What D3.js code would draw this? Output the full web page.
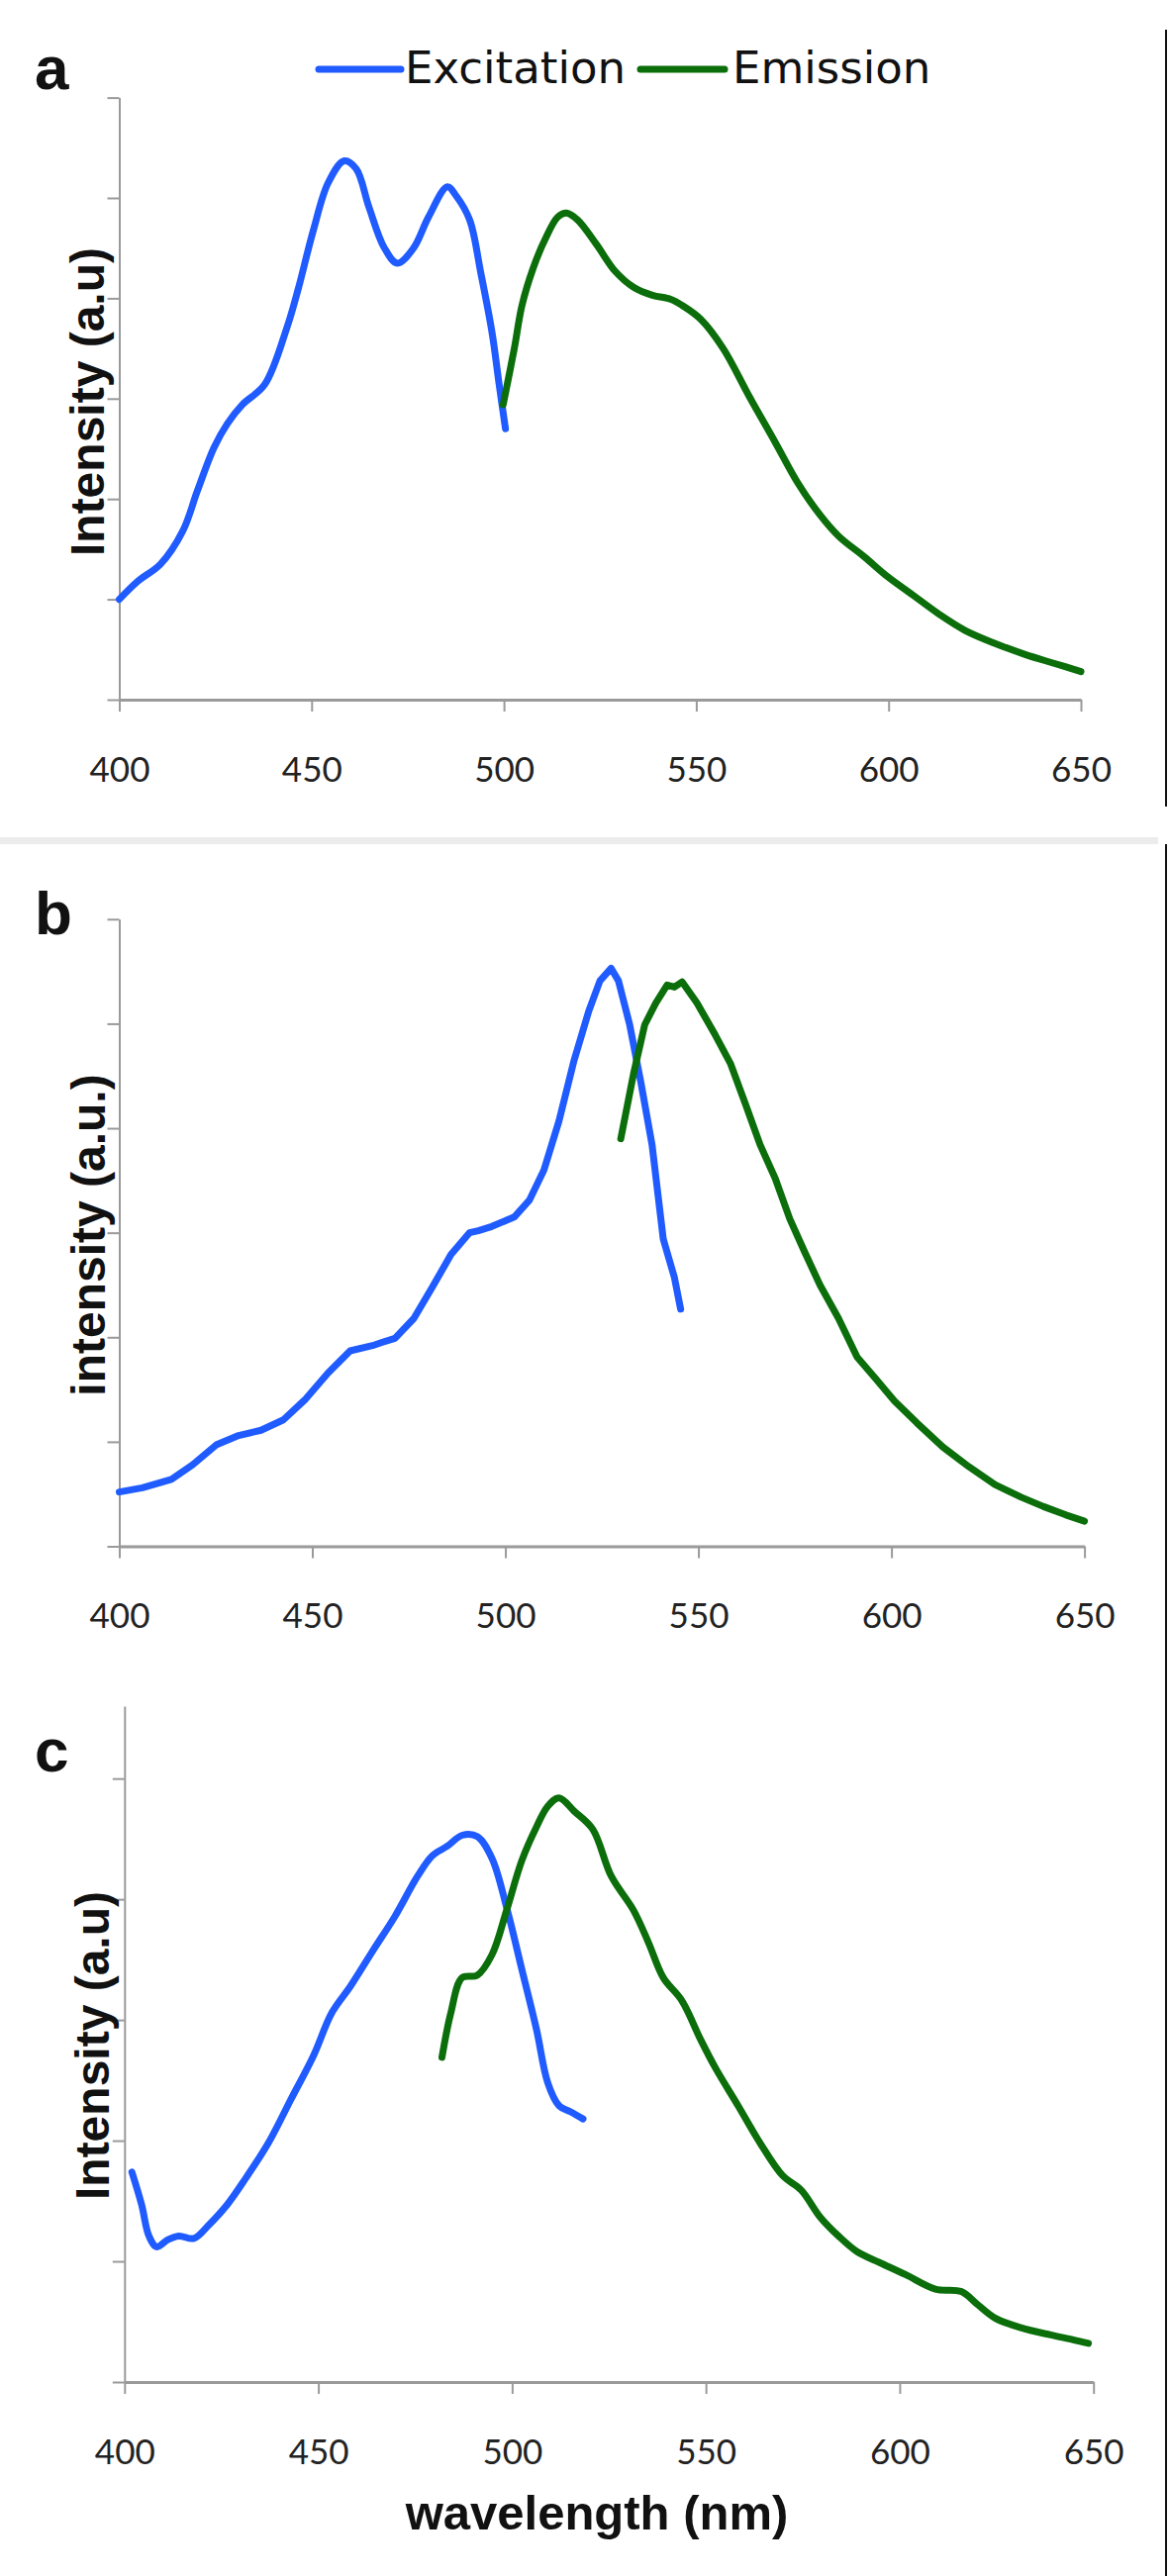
<!DOCTYPE html>
<html><head><meta charset="utf-8">
<script src="https://cdn.jsdelivr.net/npm/d3@7"></script>
<style>html,body{margin:0;padding:0;background:#fff;} svg{display:block;}</style>
</head><body><div id="chart"></div>
<script>
// ---------- data ----------
const xTicks = [400, 450, 500, 550, 600, 650];
const seriesNames = ["Excitation", "Emission"];
const panelLabels = ["a", "b", "c"];
const yTitles = ["Intensity (a.u)", "intensity (a.u.)", "Intensity (a.u)"];
const xTitle = "wavelength (nm)";

const excitationA = [[400,1.00],[404.8,1.18],[410.7,1.35],[416.5,1.68],[420.3,2.08],[424.6,2.51],[428.1,2.75],[432,2.94],[437.8,3.14],[443.6,3.71],[446.5,4.09],[450.4,4.67],[454.3,5.15],[458.5,5.37],[461.6,5.29],[464.9,4.91],[468.8,4.51],[472.3,4.35],[476.5,4.50],[480.4,4.81],[485.3,5.11],[487.6,5.02],[491.1,4.78],[494,4.25],[496.9,3.66],[498.8,3.13],[500.4,2.70]];
const emissionA = [[499.8,2.94],[502.7,3.50],[504.7,3.93],[507.6,4.30],[510.5,4.57],[514,4.81],[516.3,4.85],[519.2,4.78],[524,4.54],[528.9,4.27],[533.7,4.11],[538.6,4.03],[543.4,3.99],[546.3,3.93],[551.2,3.79],[557,3.50],[563.8,3.02],[570.6,2.56],[576.4,2.16],[582.2,1.84],[587,1.63],[593.8,1.42],[599.6,1.23],[606.4,1.04],[613.2,0.85],[619.9,0.69],[627.7,0.56],[635.5,0.45],[643.2,0.36],[650,0.28]];

const excitationB = [[400,0.52],[406,0.56],[413.5,0.64],[419,0.78],[425.1,0.97],[430.9,1.06],[436.7,1.11],[442.5,1.21],[448.3,1.41],[454.1,1.66],[459.8,1.87],[465.6,1.92],[468,1.95],[471.4,1.99],[476.3,2.18],[481.1,2.48],[485.9,2.79],[490.7,3.00],[493,3.02],[496.5,3.06],[502.3,3.15],[506.2,3.31],[510,3.60],[513.9,4.07],[517.8,4.65],[521.6,5.12],[524.5,5.41],[527.4,5.53],[529.3,5.41],[532.2,4.99],[535.1,4.44],[538,3.84],[540.9,2.94],[543.8,2.57],[545.4,2.27]];
const emissionB = [[529.9,3.90],[533.2,4.52],[536.1,4.99],[539,5.20],[541.9,5.37],[543.8,5.35],[545.8,5.40],[549.6,5.20],[554.4,4.89],[558.3,4.62],[562.2,4.23],[566,3.84],[569.9,3.52],[573.7,3.13],[577.6,2.81],[581.5,2.50],[586.3,2.18],[591.1,1.81],[596,1.60],[600.8,1.39],[606.6,1.18],[613.3,0.95],[620.1,0.76],[626.8,0.59],[633.6,0.47],[639.4,0.38],[645.2,0.30],[650,0.24]];

const excitationC = [[401.9,1.74],[404.4,1.47],[406.3,1.21],[408.3,1.12],[411.2,1.18],[414,1.21],[417.9,1.19],[421.7,1.30],[426.5,1.47],[431.3,1.69],[437.1,1.98],[442.9,2.34],[448.7,2.70],[453.5,3.06],[458.3,3.28],[464,3.57],[469.8,3.86],[475.6,4.19],[479.4,4.36],[483.3,4.44],[487.1,4.53],[491,4.52],[494.8,4.34],[498.6,3.93],[502.5,3.42],[506.3,2.92],[509.2,2.48],[512.1,2.29],[515,2.24],[518.3,2.18]];
const emissionC = [[481.9,2.69],[484.2,3.06],[487.1,3.35],[491,3.37],[494.8,3.54],[498.6,3.91],[502.5,4.32],[506.3,4.60],[509.2,4.77],[512.1,4.84],[516,4.73],[520.8,4.58],[525.6,4.19],[531.3,3.91],[535.2,3.64],[539,3.35],[543.8,3.16],[548.6,2.84],[552.5,2.60],[558.3,2.29],[564,1.98],[569.8,1.71],[574.6,1.59],[579.4,1.37],[584.2,1.21],[589,1.08],[594.8,0.99],[601.5,0.89],[609.2,0.77],[615.9,0.75],[619.8,0.65],[624.6,0.53],[631.3,0.45],[639,0.39],[644.8,0.35],[648.7,0.32]];

const yTicksAB = [0, 1, 2, 3, 4, 5, 6];
const yTicksC = [0, 1, 2, 3, 4, 5];

// ---------- layout ----------
const W = 1181, H = 2603;
const colors = ["#1f5bff", "#0b6e0b"];
const panels = [
  {label: panelLabels[0], title: yTitles[0], exc: excitationA, em: emissionA, yDomain: [0, 6], yTicks: yTicksAB,
   x0: 120.5, x1: 1092, yBottom: 707, yTop: 98.6, labelY: 90, titleX: 105, titleY: 406, curve: d3.curveCatmullRom.alpha(0.5)},
  {label: panelLabels[1], title: yTitles[1], exc: excitationB, em: emissionB, yDomain: [0, 6], yTicks: yTicksAB,
   x0: 120.5, x1: 1095.6, yBottom: 1562.5, yTop: 928.8, labelY: 944, titleX: 106, titleY: 1248, curve: d3.curveLinear},
  {label: panelLabels[2], title: yTitles[2], exc: excitationC, em: emissionC, yDomain: [0, 5.6], yTicks: yTicksC,
   x0: 125.8, x1: 1104.7, yBottom: 2407, yTop: 1724, labelY: 1790, titleX: 110, titleY: 2067, curve: d3.curveCatmullRom.alpha(0.5)}
];

const svg = d3.select("#chart").append("svg").attr("width", W).attr("height", H)
  .style("font-family", "'Liberation Sans', Arial, sans-serif");
svg.append("rect").attr("width", W).attr("height", H).attr("fill", "#fff");

// separator band + right border
svg.append("rect").attr("x", 0).attr("y", 846).attr("width", 1170).attr("height", 7).attr("fill", "#ececec");
svg.append("line").attr("x1", 1178).attr("x2", 1178).attr("y1", 30).attr("y2", 815).attr("stroke", "#111").attr("stroke-width", 2);
svg.append("line").attr("x1", 1178).attr("x2", 1178).attr("y1", 853).attr("y2", H).attr("stroke", "#111").attr("stroke-width", 2);

panels.forEach((p, i) => {
  const x = d3.scaleLinear().domain([400, 650]).range([p.x0, p.x1]);
  const y = d3.scaleLinear().domain(p.yDomain).range([p.yBottom, p.yTop]);
  const g = svg.append("g");

  // y axis
  const ya = g.append("g").attr("transform", `translate(${p.x0},0)`)
    .call(d3.axisLeft(y).tickValues(p.yTicks).tickSize(12).tickSizeOuter(0).tickFormat(""));
  ya.select(".domain").attr("stroke", "#9a9a9a").attr("stroke-width", 2);
  ya.selectAll(".tick line").attr("stroke", "#9a9a9a").attr("stroke-width", 2);

  // x axis
  const xa = g.append("g").attr("transform", `translate(0,${p.yBottom})`)
    .call(d3.axisBottom(x).tickValues(xTicks).tickSize(12).tickSizeOuter(0).tickPadding(46).tickFormat(d3.format("d")));
  xa.select(".domain").attr("stroke", "#9a9a9a").attr("stroke-width", 3);
  xa.selectAll(".tick line").attr("stroke", "#9a9a9a").attr("stroke-width", 2);
  xa.selectAll(".tick text").attr("font-size", 35).attr("fill", "#222")
    .attr("font-family", "Lato, 'Liberation Sans', Arial, sans-serif");

  // lines
  const line = d3.line().x(d => x(d[0])).y(d => y(d[1])).curve(p.curve);
  [p.exc, p.em].forEach((data, k) => {
    g.append("path").datum(data).attr("d", line).attr("fill", "none")
      .attr("stroke", colors[k]).attr("stroke-width", 7)
      .attr("stroke-linecap", "round").attr("stroke-linejoin", "round");
  });

  // panel label
  g.append("text").attr("x", 35).attr("y", p.labelY).text(p.label)
    .attr("font-size", 62).attr("font-weight", "bold").attr("fill", "#111");

  // y title
  g.append("text").attr("transform", `translate(${p.titleX},${p.titleY}) rotate(-90)`)
    .attr("text-anchor", "middle").text(p.title)
    .attr("font-size", 48).attr("font-weight", "bold").attr("fill", "#111");
});

// legend (panel a)
const legend = svg.append("g").style("font-family", "'DejaVu Sans', Verdana, sans-serif");
const legItems = [{x1: 322, x2: 405, tx: 409}, {x1: 647, x2: 732, tx: 740}];
seriesNames.forEach((name, k) => {
  legend.append("line").attr("x1", legItems[k].x1).attr("x2", legItems[k].x2).attr("y1", 70).attr("y2", 70)
    .attr("stroke", colors[k]).attr("stroke-width", 7).attr("stroke-linecap", "round");
  legend.append("text").attr("x", legItems[k].tx).attr("y", 84).text(name)
    .attr("font-size", 45).attr("fill", "#111");
});

// x title
svg.append("text").attr("x", 603).attr("y", 2556).attr("text-anchor", "middle").text(xTitle)
  .attr("font-size", 49).attr("font-weight", "bold").attr("fill", "#111");
</script></body></html>
